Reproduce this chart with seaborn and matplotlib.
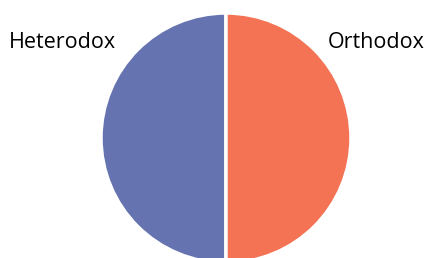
import matplotlib
matplotlib.use("Agg")
import matplotlib.pyplot as plt
import seaborn as sns

# data
categories = ["Heterodox", "Orthodox"]
shares = [50, 50]
colors = ["#6573B0", "#F37354"]

sns.set_theme(style="white")
plt.rcParams['font.family'] = ['Open Sans', 'DejaVu Sans']

fig = plt.figure(figsize=(4.27, 2.58), dpi=100)
ax = fig.add_axes([0, 0, 1, 1])

# pie in pixel-like coordinates, clipped at the bottom like the original
ax.pie(shares, colors=colors, startangle=90, counterclock=True,
       center=(226, 120), radius=125,
       wedgeprops=dict(edgecolor="white", linewidth=2.5))
ax.set_xlim(0, 427)
ax.set_ylim(0, 258)
ax.set_aspect("equal")
ax.axis("off")

ax.text(9, 216, categories[0], fontsize=15.5, color="black",
        ha="left", va="center")
ax.text(425, 216, categories[1], fontsize=15.5, color="black",
        ha="right", va="center")

fig.savefig("out.png", dpi=100)
